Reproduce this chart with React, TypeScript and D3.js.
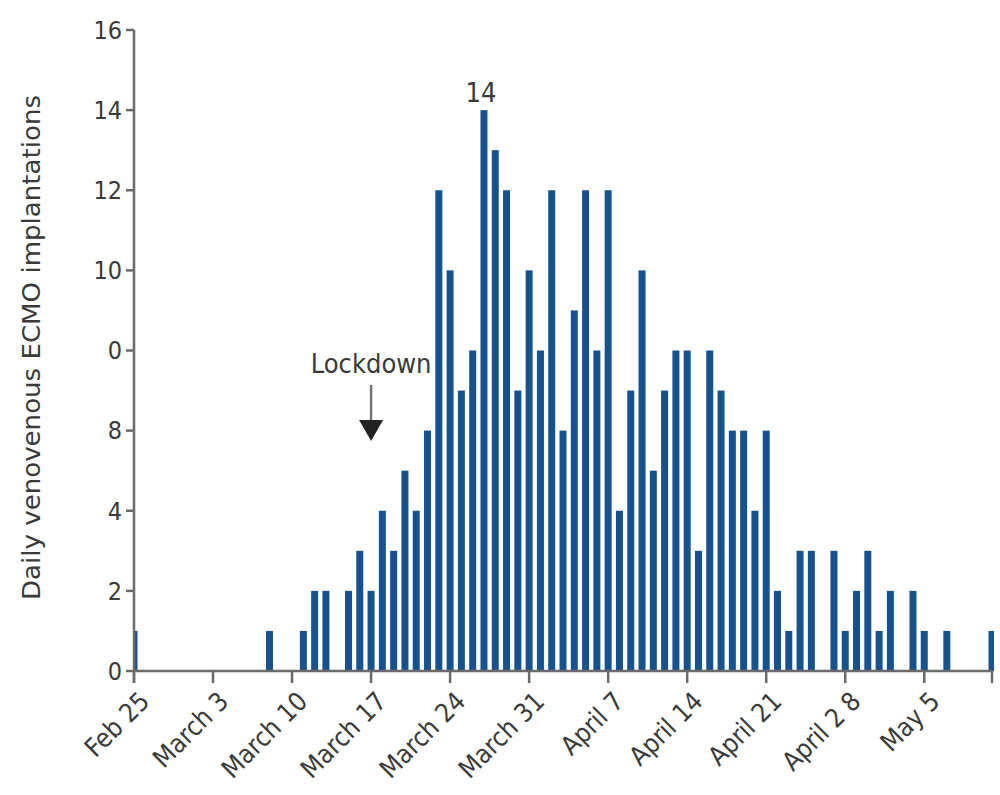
import React from 'react';
import * as d3 from 'd3';

// daily VV-ECMO implantations, one value per day starting Feb 25, 2020
const startDate = new Date(2020, 1, 25);
const endDate = new Date(2020, 4, 11);
const dailyCounts = [
  1, 0, 0, 0, 0, 0, 0, 0, 0, 0, 0, 0, 1, 0, 0, 1, 2, 2, 0, 2, 3,
  2, 4, 3, 5, 4, 6, 12, 10, 7, 8, 14, 13, 12, 7, 10, 8, 12, 6, 9,
  12, 8, 12, 4, 7, 10, 5, 7, 8, 8, 3, 8, 7, 6, 6, 4, 6, 2, 1, 3,
  3, 0, 3, 1, 2, 3, 1, 2, 0, 2, 1, 0, 1, 0, 0, 0, 1,
];
const xTickLabels = [
  'Feb 25', 'March 3', 'March 10', 'March 17', 'March 24', 'March 31',
  'April 7', 'April 14', 'April 21', 'April 2 8', 'May 5', '',
];
const yTickValues = [0, 2, 4, 6, 8, 10, 12, 14, 16];
const yTickLabels = ['0', '2', '4', '8', '0', '10', '12', '14', '16'];
const lockdownDate = new Date(2020, 2, 17);
const peakLabel = '14';

const FONT = '"Liberation Sans Narrow", "DejaVu Sans Condensed", "Liberation Sans", sans-serif';
const BAR = '#17528f';
const AXIS = '#6b6b6b';
const TEXT = '#3a3a3a';

const App = () => {
  const width = 1000;
  const height = 795;
  const left = 134;
  const right = 992;
  const top = 30;
  const bottom = 671;

  const days = dailyCounts.map((_, i) => d3.timeDay.offset(startDate, i));
  const x = d3.scaleTime().domain([startDate, endDate]).range([left, right]);
  const y = d3.scaleLinear().domain([0, 16]).range([bottom, top]);

  const xTicks = d3.timeDay.range(startDate, endDate, 7).concat([endDate]);
  const barW = 7;
  const peakIdx = dailyCounts.indexOf(d3.max(dailyCounts) as number);

  const lx = x(lockdownDate);

  return (
    <svg width={width} height={height} style={{ position: 'absolute', left: 0, top: 0, background: '#fff' }}
      fontFamily={FONT}>
      <defs>
        <clipPath id="plot">
          <rect x={left} y={0} width={right - left + 2} height={bottom} />
        </clipPath>
      </defs>

      {/* bars */}
      <g clipPath="url(#plot)">
        {dailyCounts.map((v, i) => v > 0 && (
          <rect key={i} x={x(days[i]) - barW / 2} y={y(v)} width={barW} height={bottom - y(v)} fill={BAR} />
        ))}
      </g>

      {/* y axis */}
      <line x1={left} x2={left} y1={top} y2={bottom + 12} stroke={AXIS} strokeWidth={2.5} />
      {yTickValues.map((t, i) => (
        <g key={t} transform={`translate(${left},${y(t)})`}>
          <line x1={-8} x2={0} stroke={AXIS} strokeWidth={2.5} />
          <text x={-12} dy="0.35em" textAnchor="end" fontSize={25} fill={TEXT}>{yTickLabels[i]}</text>
        </g>
      ))}
      <text transform={`translate(40,${(95 + 600) / 2}) rotate(-90)`} textAnchor="middle" fontSize={25}
        fill={TEXT} textLength={505} lengthAdjust="spacingAndGlyphs">
        Daily venovenous ECMO implantations
      </text>

      {/* x axis */}
      <line x1={left} x2={right + 1} y1={bottom} y2={bottom} stroke={AXIS} strokeWidth={2.5} />
      {xTicks.map((t, i) => (
        <g key={i} transform={`translate(${x(t)},${bottom})`}>
          <line y1={0} y2={12} stroke={AXIS} strokeWidth={2.5} />
          <text transform="translate(17,32) rotate(-45)" textAnchor="end" fontSize={26} fill={TEXT}>
            {xTickLabels[i]}
          </text>
        </g>
      ))}

      {/* peak label */}
      <text x={x(days[peakIdx]) - 3} y={y(dailyCounts[peakIdx]) - 8} textAnchor="middle" fontSize={27} fill={TEXT}>
        {peakLabel}
      </text>

      {/* lockdown annotation */}
      <text x={lx} y={373} textAnchor="middle" fontSize={27} fill={TEXT}>Lockdown</text>
      <line x1={lx} x2={lx} y1={385} y2={424} stroke="#777" strokeWidth={2.5} />
      <path d={`M${lx - 12},${420} L${lx + 12},${420} L${lx},${441} Z`} fill="#222" />
    </svg>
  );
};

export default App;
